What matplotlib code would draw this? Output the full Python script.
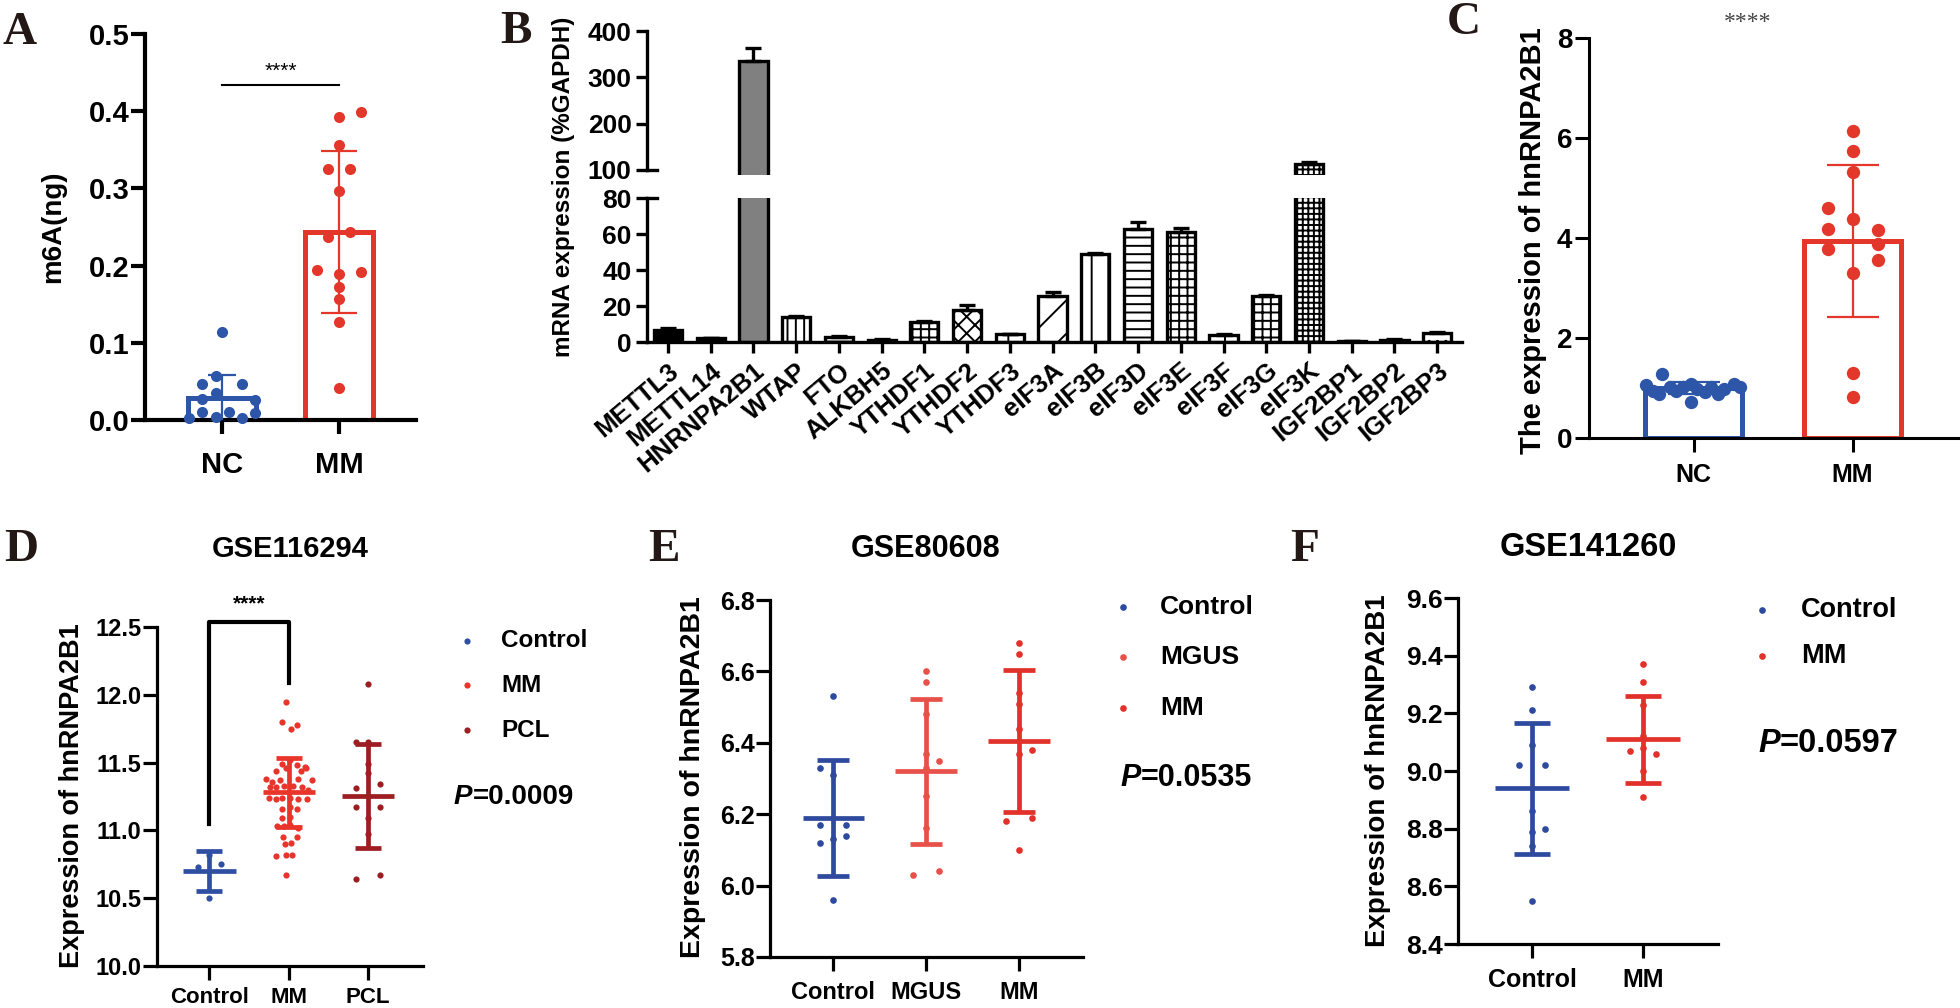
import numpy as np
import matplotlib.pyplot as plt
from matplotlib.text import Annotation

plt.rcParams['font.family'] = ['Liberation Sans', 'DejaVu Sans']
plt.rcParams['font.weight'] = 'bold'
plt.rcParams['hatch.linewidth'] = 1.4

# ---------------- data ----------------
# A: m6A content
a_groups = ['NC', 'MM']
a_nc = [0.114, 0.057, 0.047, 0.047, 0.035, 0.027, 0.026, 0.010, 0.010, 0.004, 0.003, 0.003, 0.009]
a_nc_x = [0.0, -0.054, -0.17, 0.17, -0.054, -0.17, 0.285, -0.17, 0.057, -0.054, 0.17, -0.285, 0.285]
a_mm = [0.399, 0.392, 0.356, 0.325, 0.325, 0.297, 0.243, 0.237, 0.194, 0.192, 0.189, 0.172, 0.157, 0.127, 0.042]
a_mm_x = [0.19, 0, 0, -0.09, 0.094, 0, 0.094, -0.09, -0.19, 0.19, 0, 0, 0, 0, 0]
a_mean = [0.028, 0.243]
a_sd = [0.030, 0.105]

# B: m6A regulators
b_genes = ['METTL3', 'METTL14', 'HNRNPA2B1', 'WTAP', 'FTO', 'ALKBH5', 'YTHDF1', 'YTHDF2',
           'YTHDF3', 'eIF3A', 'eIF3B', 'eIF3D', 'eIF3E', 'eIF3F', 'eIF3G', 'eIF3K',
           'IGF2BP1', 'IGF2BP2', 'IGF2BP3']
b_vals = [6.9, 2.0, 335.5, 13.9, 2.6, 1.3, 11.1, 18.0, 4.4, 25.7, 49.0, 62.6, 61.1, 4.1, 25.4, 113.6, 0.4, 1.3, 5.2]
b_err = [0.9, 0.4, 27.5, 0.7, 0.5, 0.2, 0.4, 2.7, 0.2, 1.9, 0.5, 4.1, 2.2, 0.2, 0.7, 4.4, 0.1, 0.2, 0.4]
b_fill = ['black', 'black', '#808080', 'white', 'white', 'black', 'white', 'white', 'white', 'white',
          'white', 'white', 'white', 'white', 'white', 'white', 'white', 'black', 'white']
b_hatch = ['', '', '', '||', '-', '', '++', 'xx', '|', '/', '|', '--', '++', '|', '++', '+++', '', '', '..']

# C: hnRNPA2B1 expression
c_groups = ['NC', 'MM']
c_nc = [1.29, 0.72, 1.06, 0.95, 0.89, 1.02, 0.94, 1.02, 1.09, 0.99, 0.92, 1.02, 0.89, 0.99, 1.09, 1.02]
c_nc_x = [-0.20, -0.02, -0.30, -0.26, -0.22, -0.15, -0.11, -0.07, -0.02, 0.02, 0.07, 0.11, 0.15, 0.19, 0.25, 0.29]
c_mm = [6.14, 5.75, 5.33, 4.61, 4.38, 4.19, 4.17, 3.79, 3.89, 3.56, 3.31, 1.30, 0.82]
c_mm_x = [0, 0, 0, -0.157, 0, -0.157, 0.157, -0.157, 0.157, 0.157, 0, 0, 0]
c_mean = [1.0, 3.94]
c_sd = [0.12, 1.52]

# D: GSE116294
d_groups = ['Control', 'MM', 'PCL']
d_ctrl = [10.73, 10.75, 10.50, 10.82]
d_ctrl_x = [-0.14, 0.14, 0.0, 0.0]
d_mm = [11.95, 11.80, 11.78, 11.75, 11.49, 11.52, 11.48, 11.47, 11.44, 11.46, 11.44, 11.46,
        11.38, 11.36, 11.37, 11.38, 11.37, 11.32, 11.32, 11.33, 11.33, 11.32, 11.30,
        11.24, 11.23, 11.24, 11.24, 11.23, 11.23, 11.16, 11.17, 11.16, 11.09, 11.10,
        11.03, 11.03, 11.04, 11.02, 10.95, 10.95, 10.90, 10.91, 10.81, 10.82, 10.82, 10.67]
d_mm_x = [-0.03, -0.09, 0.10, 0.03, -0.09, 0.02, 0.10, 0.20, -0.16, -0.04, 0.15, 0.22,
          -0.29, -0.21, -0.11, 0.11, 0.29, -0.24, -0.16, -0.06, 0.05, 0.17, 0.24,
          -0.25, -0.16, -0.08, 0.01, 0.11, 0.23, -0.08, 0.02, 0.10, -0.09, 0.01,
          -0.15, -0.06, 0.02, 0.11, -0.07, 0.10, -0.05, 0.03, -0.16, -0.04, 0.04, -0.03]
d_pcl = [12.08, 11.65, 11.65, 11.49, 11.42, 11.31, 11.34, 11.17, 11.17, 11.09, 10.97, 10.64, 10.67]
d_pcl_x = [0, -0.15, 0, 0, 0, -0.15, 0.15, -0.15, 0.15, 0, 0, -0.15, 0.15]
d_mean = [10.70, 11.28, 11.255]
d_sd = [0.145, 0.255, 0.385]

# E: GSE80608
e_groups = ['Control', 'MGUS', 'MM']
e_ctrl = [6.53, 6.33, 6.31, 6.17, 6.17, 6.19, 6.14, 6.12, 6.13, 5.96]
e_ctrl_x = [0, -0.14, 0, -0.14, 0.14, 0, 0.14, -0.14, 0, 0]
e_mgus = [6.60, 6.57, 6.48, 6.37, 6.35, 6.33, 6.25, 6.16, 6.03, 6.04]
e_mgus_x = [0, 0, 0, 0, 0.14, 0, 0, 0, -0.14, 0.14]
e_mm = [6.68, 6.65, 6.54, 6.51, 6.44, 6.37, 6.38, 6.18, 6.19, 6.10]
e_mm_x = [0, 0, 0, 0, 0, 0, 0.14, -0.14, 0.14, 0]
e_mean = [6.19, 6.32, 6.405]
e_sd = [0.163, 0.203, 0.198]

# F: GSE141260
f_groups = ['Control', 'MM']
f_ctrl = [9.29, 9.21, 9.09, 9.02, 9.02, 8.86, 8.80, 8.79, 8.74, 8.55]
f_ctrl_x = [0, 0, 0, -0.12, 0.12, 0, 0.12, 0, 0, 0]
f_mm = [9.37, 9.31, 9.23, 9.12, 9.07, 9.06, 9.08, 9.00, 8.91]
f_mm_x = [0, 0, 0, 0, -0.12, 0.12, 0, 0, 0]
f_mean = [8.94, 9.11]
f_sd = [0.228, 0.15]

p_values = ['0.0009', '0.0535', '0.0597']

# ---------------- layout helpers ----------------
W, H = 1960, 1008
fig = plt.figure(figsize=(W / 100, H / 100), dpi=100)


def rect(l, t, r, b):
    return [l / W, 1 - b / H, (r - l) / W, (b - t) / H]


def fx(px):
    return px / W


def fy(py):
    return 1 - py / H


def style(ax, lw, tlen, ysize, xsize, ypad=2, xpad=6):
    for s in ('top', 'right'):
        ax.spines[s].set_visible(False)
    for s in ('left', 'bottom'):
        ax.spines[s].set_linewidth(lw)
    ax.tick_params(direction='out', length=tlen, width=lw)
    ax.tick_params(axis='y', labelsize=ysize, pad=ypad)
    ax.tick_params(axis='x', labelsize=xsize, pad=xpad)


def letter(x, y, s):
    fig.text(fx(x), fy(y), s, family='Liberation Serif', fontsize=34, fontweight='bold',
             ha='left', va='baseline', color='#231815')


def ylab(x, y, s, size):
    fig.text(fx(x), fy(y), s, rotation=90, ha='center', va='center', fontsize=size)


BLUE = '#2d56a8'
RED = '#e3372b'

# ---------------- A ----------------
axA = fig.add_axes(rect(145, 34, 416, 420))
axA.bar([0, 1], a_mean, width=0.58, color='white', edgecolor=[BLUE, RED], linewidth=3.6, zorder=1)
axA.scatter(np.array(a_nc_x), a_nc, s=64, color=BLUE, zorder=3, clip_on=False, linewidths=0)
axA.scatter(1 + np.array(a_mm_x), a_mm, s=64, color=RED, zorder=3, linewidths=0)
for i, c in enumerate([BLUE, RED]):
    axA.errorbar(i, a_mean[i], yerr=a_sd[i], fmt='none', ecolor=c, elinewidth=1.6,
                 capsize=13 if i else 10, capthick=1.6, zorder=4)
axA.plot([0, 1], [0.434, 0.434], color='black', lw=1.5)
axA.text(0.5, 0.439, '****', ha='center', va='bottom', fontsize=15, fontweight='normal')
axA.set_xlim(-0.66, 1.66)
axA.set_ylim(0, 0.5)
axA.set_yticks(np.arange(0, 0.51, 0.1))
axA.set_yticklabels([f'{v:.1f}' for v in np.arange(0, 0.51, 0.1)])
axA.set_xticks([0, 1])
axA.set_xticklabels(a_groups)
style(axA, 3.0, 10, 21, 21, ypad=1, xpad=12)
ylab(53, 227, 'm6A(ng)', 20)
letter(2, 44, 'A')

# ---------------- B (broken axis) ----------------
axBt = fig.add_axes(rect(647, 31, 1462, 175))
axBb = fig.add_axes(rect(647, 198, 1462, 342))
xb = np.arange(len(b_genes))
for ax in (axBt, axBb):
    bars = ax.bar(xb, b_vals, width=0.66, color=b_fill, edgecolor='black', linewidth=2.4, zorder=2)
    for bar, h in zip(bars, b_hatch):
        bar.set_hatch(h)
    ax.errorbar(xb, b_vals, yerr=[np.zeros(len(b_err)), b_err], fmt='none', ecolor='black',
                elinewidth=2.4, capsize=6, capthick=2.4, zorder=3)
    ax.set_xlim(-0.49, 18.58)
axBt.set_ylim(89.2, 400)
axBt.spines['left'].set_bounds(100, 400)
axBt.set_yticks([100, 200, 300, 400])
axBt.set_xticks([])
style(axBt, 2.4, 8, 19, 18, ypad=3)
axBt.spines['bottom'].set_visible(False)
axBt.plot([0, 0.012], [100, 100], color='black', lw=2.4, transform=axBt.get_yaxis_transform(), clip_on=False)
axBb.set_ylim(0, 80)
axBb.set_yticks(np.arange(0, 81, 20))
axBb.set_xticks(xb)
axBb.set_xticklabels(b_genes, rotation=40, ha='right', va='top', rotation_mode='anchor')
style(axBb, 2.4, 8, 19, 18.5, ypad=3, xpad=4)
axBb.plot([0, 0.012], [80, 80], color='black', lw=2.4, transform=axBb.get_yaxis_transform(), clip_on=False)
ylab(563, 187, 'mRNA expression (%GAPDH)', 17.5)
letter(500, 43, 'B')

# ---------------- C ----------------
axC = fig.add_axes(rect(1589, 38, 1959, 438))
axC.bar([0, 1], c_mean, width=0.61, color='white', edgecolor=[BLUE, RED], linewidth=3.6, zorder=1)
axC.scatter(np.array(c_nc_x), c_nc, s=92, color=BLUE, zorder=3, linewidths=0)
axC.scatter(1 + np.array(c_mm_x), c_mm, s=92, color=RED, zorder=3, linewidths=0)
for i, c in enumerate([BLUE, RED]):
    axC.errorbar(i, c_mean[i], yerr=c_sd[i], fmt='none', ecolor=c, elinewidth=1.6,
                 capsize=19, capthick=1.6, zorder=4)
axC.text(0.34, 8.3, '****', ha='center', va='center', family='Liberation Serif',
         fontsize=17, fontweight='normal', color='#444444', clip_on=False)
axC.set_xlim(-0.66, 1.67)
axC.set_ylim(0, 8)
axC.set_yticks([0, 2, 4, 6, 8])
axC.set_xticks([0, 1])
axC.set_xticklabels(c_groups)
style(axC, 2.2, 10, 20, 18, ypad=2, xpad=8)
ylab(1533, 241, 'The expression of hnRNPA2B1', 21)
letter(1447, 34, 'C')


# ---------------- D / E / F dot plots ----------------
def dotplot(ax, names, vals, offs, means, sds, colors, capsize, s):
    handles = []
    for i in range(len(names)):
        h = ax.scatter(i + np.array(offs[i]), vals[i], s=s, color=colors[i], zorder=2,
                       linewidths=0, label=names[i])
        handles.append(h)
        ax.hlines(means[i], i - 0.33, i + 0.33, color=colors[i], lw=3.4, zorder=3)
        ax.errorbar(i, means[i], yerr=sds[i], fmt='none', ecolor=colors[i], elinewidth=3.4,
                    capsize=capsize, capthick=3.4, zorder=3)
    ax.set_xticks(range(len(names)))
    ax.set_xticklabels(names)
    return handles


def legend(ax, handles, x, top, size, pad, spacing):
    ax.legend(handles=handles, loc='upper left', bbox_to_anchor=(fx(x), fy(top)),
              bbox_transform=fig.transFigure, frameon=False, fontsize=size,
              handlelength=1.0, handletextpad=pad, labelspacing=spacing,
              borderpad=0, borderaxespad=0, scatterpoints=1, markerscale=1.0)


def ptext(x, y, val, size):
    t = fig.text(fx(x), fy(y), 'P', style='italic', fontsize=size, ha='left', va='center')
    fig.add_artist(Annotation('=' + val, xy=(1, 0), xycoords=t, ha='left', va='bottom', fontsize=size))


# D
axD = fig.add_axes(rect(157, 627, 423, 966))
hd = dotplot(axD, d_groups, [d_ctrl, d_mm, d_pcl], [d_ctrl_x, d_mm_x, d_pcl_x], d_mean, d_sd,
             ['#2f4fa3', '#e8342b', '#9c1e22'], 9.4, 20)
axD.plot([0, 0, 1, 1], [11.05, 12.54, 12.54, 12.09], color='black', lw=3.0, clip_on=False)
axD.text(0.5, 12.6, '****', ha='center', va='bottom', fontsize=15, clip_on=False)
axD.set_xlim(-0.66, 2.69)
axD.set_ylim(10.0, 12.5)
axD.set_yticks(np.arange(10.0, 12.51, 0.5))
axD.set_yticklabels([f'{v:.1f}' for v in np.arange(10.0, 12.51, 0.5)])
style(axD, 2.3, 10, 17, 16, ypad=1, xpad=5)
legend(axD, hd, 455, 629, 17.5, 0.9, 0.9)
ptext(454, 797, p_values[0], 20)
ylab(72, 796, 'Expression of hnRNPA2B1', 19.5)
fig.text(fx(290), fy(549), 'GSE116294', ha='center', va='center', fontsize=21)
letter(4, 561, 'D')

# E
axE = fig.add_axes(rect(770, 600, 1083, 957))
he = dotplot(axE, e_groups, [e_ctrl, e_mgus, e_mm], [e_ctrl_x, e_mgus_x, e_mm_x], e_mean, e_sd,
             ['#2e4a9e', '#e8504a', '#e2302a'], 11.2, 23)
axE.set_xlim(-0.68, 2.69)
axE.set_ylim(5.8, 6.8)
axE.set_yticks(np.arange(5.8, 6.81, 0.2))
axE.set_yticklabels([f'{v:.1f}' for v in np.arange(5.8, 6.81, 0.2)])
style(axE, 2.3, 10, 18, 17, ypad=1, xpad=7)
legend(axE, he, 1110, 595, 19, 0.9, 1.0)
ptext(1120, 778, p_values[1], 22)
ylab(693, 777, 'Expression of hnRNPA2B1', 20.5)
fig.text(fx(926), fy(549), 'GSE80608', ha='center', va='center', fontsize=22)
letter(648, 561, 'E')

# F
axF = fig.add_axes(rect(1458, 598, 1718, 944))
hf = dotplot(axF, f_groups, [f_ctrl, f_mm], [f_ctrl_x, f_mm_x], f_mean, f_sd,
             ['#2e4a9e', '#e2302a'], 13.2, 23)
axF.set_xlim(-0.667, 1.676)
axF.set_ylim(8.4, 9.6)
axF.set_yticks(np.arange(8.4, 9.61, 0.2))
axF.set_yticklabels([f'{v:.1f}' for v in np.arange(8.4, 9.61, 0.2)])
style(axF, 2.3, 10, 19, 18, ypad=1, xpad=7)
legend(axF, hf, 1748, 597, 19.5, 0.97, 0.75)
ptext(1758, 744, p_values[2], 23.5)
ylab(1378, 771, 'Expression of hnRNPA2B1', 20)
fig.text(fx(1588), fy(548), 'GSE141260', ha='center', va='center', fontsize=23.5)
letter(1290, 561, 'F')

fig.savefig('out.png', dpi=100)
